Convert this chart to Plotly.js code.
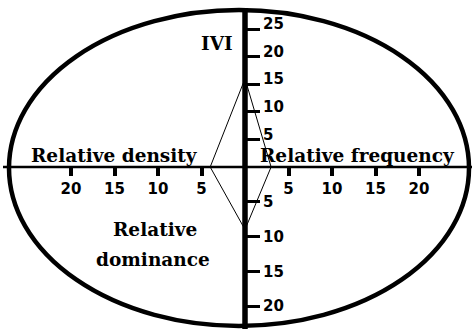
<!DOCTYPE html>
<html>
<head>
<meta charset="utf-8">
<script src="https://cdn.plot.ly/plotly-3.0.1.min.js"></script>
<style>
  html, body { margin: 0; padding: 0; background: #ffffff; }
  #chart { width: 474px; height: 329px; }
</style>
</head>
<body>
<div id="chart"></div>
<script>
// Chart values
const categories = ["IVI", "Relative density", "Relative frequency", "Relative dominance"];
const values = [16, 4, 3, 9];

// Tick labels on each arm of the cross
const horizontalTicks = [-20, -15, -10, -5, 5, 10, 15, 20];
const upperTicks = [5, 10, 15, 20, 25];
const lowerTicks = [5, 10, 15, 20];

const W = 474, H = 329;

// Pixel to paper coordinates (plot fills the whole page)
function px(x) { return x / W; }
function py(y) { return 1 - y / H; }

const ivi = values[0];
const density = values[1];
const frequency = values[2];
const dominance = values[3];

const tickFont = { family: "DejaVu Sans", size: 15, color: "#000000", weight: "bold" };
const labelFont = { family: "DejaVu Serif", size: 18.5, color: "#000000", weight: "bold" };

// Upper half of the kite: density -> IVI -> frequency
const upperTrace = {
  type: "scatter",
  mode: "lines",
  x: [-density, 0, frequency],
  y: [0, ivi, 0],
  xaxis: "x",
  yaxis: "y",
  line: { color: "#000000", width: 1 },
  hoverinfo: "skip"
};

// Lower half of the kite: density -> dominance -> frequency
const lowerTrace = {
  type: "scatter",
  mode: "lines",
  x: [-density, 0, frequency],
  y: [0, dominance, 0],
  xaxis: "x",
  yaxis: "y2",
  line: { color: "#000000", width: 1 },
  hoverinfo: "skip"
};

const axisY = 167;   // horizontal axis, px
const axisX = 245;   // vertical axis, px
const xScale = 8.7;  // px per unit
const upScale = 5.52;
const downScale = 6.95;

const layout = {
  width: W,
  height: H,
  margin: { l: 0, r: 0, t: 0, b: 0 },
  paper_bgcolor: "#ffffff",
  plot_bgcolor: "rgba(0,0,0,0)",
  showlegend: false,
  xaxis: {
    domain: [0, 1],
    range: [-axisX / xScale, (W - axisX) / xScale],
    anchor: "free",
    position: py(axisY),
    side: "bottom",
    tickmode: "array",
    tickvals: horizontalTicks,
    ticktext: horizontalTicks.map(v => String(Math.abs(v))),
    ticks: "outside",
    ticklen: 8,
    tickwidth: 4,
    tickcolor: "#000000",
    tickfont: tickFont,
    showgrid: false,
    zeroline: false,
    showline: false,
    fixedrange: true
  },
  yaxis: {
    domain: [py(axisY), 1],
    range: [0, axisY / upScale],
    anchor: "free",
    position: px(axisX),
    side: "right",
    tickmode: "array",
    tickvals: upperTicks,
    ticks: "outside",
    ticklen: 14,
    tickwidth: 3,
    tickcolor: "#000000",
    tickfont: tickFont,
    ticklabelshift: -5,
    showgrid: false,
    zeroline: false,
    showline: false,
    fixedrange: true
  },
  yaxis2: {
    domain: [0, py(axisY)],
    range: [(H - axisY) / downScale, 0],
    anchor: "free",
    position: px(axisX),
    side: "right",
    tickmode: "array",
    tickvals: lowerTicks,
    ticks: "outside",
    ticklen: 14,
    tickwidth: 3,
    tickcolor: "#000000",
    tickfont: tickFont,
    showgrid: false,
    zeroline: false,
    showline: false,
    fixedrange: true
  },
  shapes: [
    // outer ellipse
    {
      type: "circle", xref: "paper", yref: "paper",
      x0: px(9), x1: px(469), y0: py(326), y1: py(10),
      line: { color: "#000000", width: 4.5 }
    },
    // horizontal axis line
    {
      type: "line", xref: "paper", yref: "paper",
      x0: px(3), x1: px(472), y0: py(axisY), y1: py(axisY),
      line: { color: "#000000", width: 2.5 }
    },
    // vertical axis line
    {
      type: "line", xref: "paper", yref: "paper",
      x0: px(axisX), x1: px(axisX), y0: py(8), y1: py(329),
      line: { color: "#000000", width: 5.5 }
    }
  ],
  annotations: [
    { text: categories[0], x: px(217), y: py(43) },
    { text: categories[1], x: px(114), y: py(155) },
    { text: categories[2], x: px(357), y: py(155) },
    { text: "Relative", x: px(155), y: py(229) },
    { text: "dominance", x: px(153), y: py(259) }
  ].map(a => Object.assign({
    xref: "paper", yref: "paper",
    xanchor: "center", yanchor: "middle",
    showarrow: false,
    font: labelFont
  }, a))
};

Plotly.newPlot("chart", [upperTrace, lowerTrace], layout, { displayModeBar: false, staticPlot: true });
</script>
</body>
</html>
